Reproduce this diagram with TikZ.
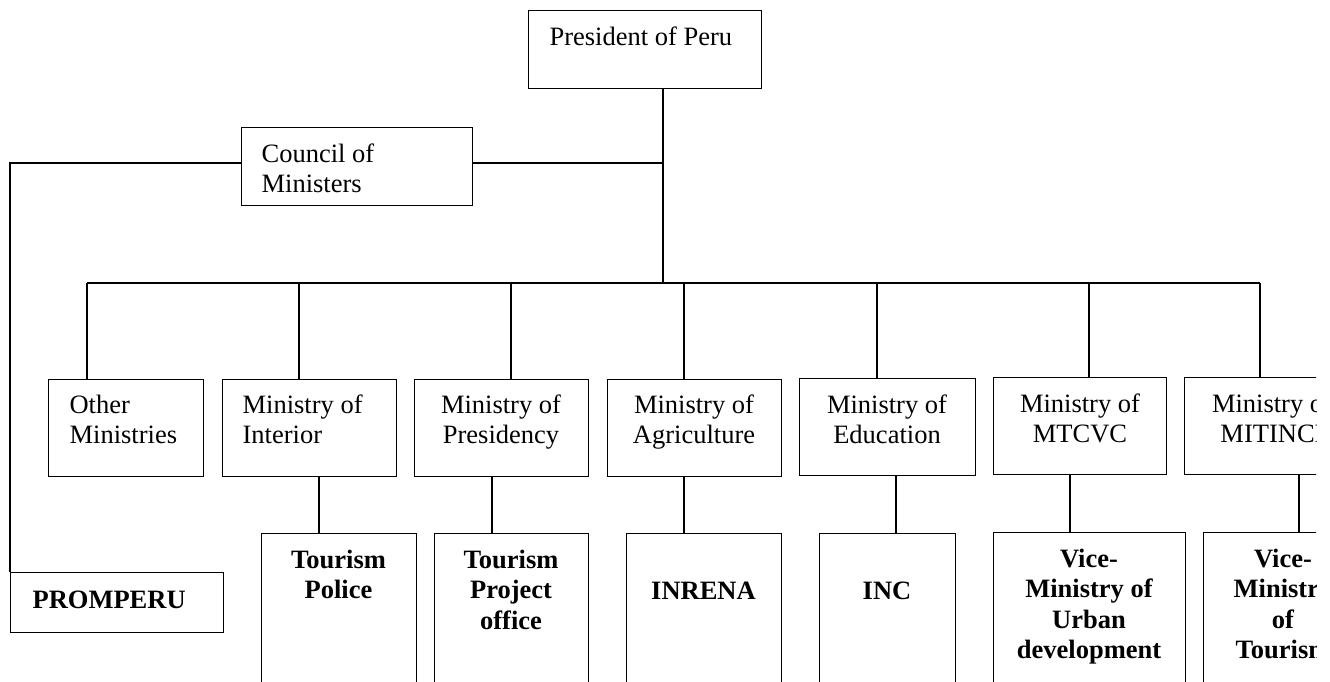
\documentclass[tikz,border=0pt]{standalone}
\usepackage{fontspec}
\setmainfont{Liberation Serif}
\usetikzlibrary{calc}
\newcommand\mlines[2][c]{\begin{tabular}[t]{@{}#1@{}}#2\end{tabular}}
\begin{document}
\begin{tikzpicture}[x=1pt,y=-1pt,line width=1.2pt,
  box/.style={draw=black, rectangle, inner sep=0pt, anchor=north west},
  txt/.style={inner sep=0pt, font=\fontsize{26.5}{30.5}\selectfont},
  btxt/.style={inner sep=0pt, font=\fontsize{26.5}{30.5}\selectfont\bfseries},
  wire/.style={draw=black, line width=1.2pt}]
\fill[white] (0,0) rectangle (1330,681);
\useasboundingbox (0,0) rectangle (1330,681);
\clip (0,0) rectangle (1316,681);

% ---- boxes ----
\node[box, minimum width=233pt, minimum height=78pt] (pres) at (528,10) {};
\node[box, minimum width=231pt, minimum height=78pt] (coun) at (241,127) {};
\node[box, minimum width=213pt, minimum height=60pt] (prom) at (10,572) {};

\node[box, minimum width=155pt, minimum height=97pt] (oth)  at (48,379) {};
\node[box, minimum width=174pt, minimum height=97pt] (mint) at (222,379) {};
\node[box, minimum width=174pt, minimum height=97pt] (mpre) at (414,379) {};
\node[box, minimum width=174pt, minimum height=97pt] (magr) at (607,379) {};
\node[box, minimum width=176pt, minimum height=97pt] (medu) at (799,378) {};
\node[box, minimum width=173pt, minimum height=97pt] (mtc)  at (993,377) {};
\node[box, minimum width=172pt, minimum height=97pt] (mit)  at (1184,377) {};

\node[box, minimum width=155pt, minimum height=200pt] (tpol) at (261,533) {};
\node[box, minimum width=154pt, minimum height=200pt] (tpro) at (434,533) {};
\node[box, minimum width=155pt, minimum height=200pt] (inr)  at (626,533) {};
\node[box, minimum width=136pt, minimum height=200pt] (inc)  at (819,533) {};
\node[box, minimum width=192pt, minimum height=200pt] (vurb) at (993,532) {};
\node[box, minimum width=158pt, minimum height=200pt] (vtou) at (1203,532) {};

% ---- texts ----
\node[txt, anchor=base west] (tpres) at (549,45) {President of Peru};
\node[txt, anchor=base west] (tcoun) at (261,162) {\mlines[l]{Council of\\Ministers}};
\node[btxt, anchor=base west] (tprom) at (32,608) {PROMPERU};

\node[txt, anchor=base west] (toth) at (69,413) {\mlines[l]{Other\\Ministries}};
\node[txt, anchor=base west] (tmint) at (242,413) {\mlines[l]{Ministry of\\Interior}};
\node[txt, anchor=base] (tmpre) at (501,413) {\mlines{Ministry of\\Presidency}};
\node[txt, anchor=base] (tmagr) at (694,413) {\mlines{Ministry of\\Agriculture}};
\node[txt, anchor=base] (tmedu) at (887,413) {\mlines{Ministry of\\Education}};
\node[txt, anchor=base] (tmtc) at (1080,412) {\mlines{Ministry of\\MTCVC}};
\node[txt, anchor=base] (tmit) at (1272,412) {\mlines{Ministry of\\MITINCI}};

\node[btxt, anchor=base] (ttpol) at (338.5,568) {\mlines{Tourism\\Police}};
\node[btxt, anchor=base] (ttpro) at (511,568) {\mlines{Tourism\\Project\\office}};
\node[btxt, anchor=base] (tinr) at (703.5,599) {INRENA};
\node[btxt, anchor=base] (tinc) at (887,599) {INC};
\node[btxt, anchor=base] (tvurb) at (1089,567) {\mlines{Vice-\\Ministry of\\Urban\\development}};
\node[btxt, anchor=base] (tvtou) at (1283,567) {\mlines{Vice-\\Ministry\\of\\Tourism}};

% ---- junction coordinates ----
\coordinate (cj) at (663,163);
\coordinate (lc) at (10,163);
\coordinate (bj) at (663,283);
\coordinate (b1) at (87,283);
\coordinate (b2) at (299,283);
\coordinate (b3) at (511,283);
\coordinate (b4) at (684,283);
\coordinate (b5) at (877,283);
\coordinate (b6) at (1089,283);
\coordinate (b7) at (1260,283);
\coordinate (k2) at (319,0);
\coordinate (k3) at (492,0);
\coordinate (k4) at (684,0);
\coordinate (k5) at (896,0);
\coordinate (k6) at (1070,0);
\coordinate (k7) at (1299,0);

% ---- connectors ----
\draw[wire] (pres.south -| bj) -- (bj);
\draw[wire] (coun.east |- cj) -- (cj);
\draw[wire] (coun.west |- lc) -- (lc) -- (prom.north west);
\draw[wire] (b1) -- (b7);
\draw[wire] (b1) -- (oth.north -| b1);
\draw[wire] (b2) -- (mint.north -| b2);
\draw[wire] (b3) -- (mpre.north -| b3);
\draw[wire] (b4) -- (magr.north -| b4);
\draw[wire] (b5) -- (medu.north -| b5);
\draw[wire] (b6) -- (mtc.north -| b6);
\draw[wire] (b7) -- (mit.north -| b7);
\draw[wire] (mint.south -| k2) -- (tpol.north -| k2);
\draw[wire] (mpre.south -| k3) -- (tpro.north -| k3);
\draw[wire] (magr.south -| k4) -- (inr.north -| k4);
\draw[wire] (medu.south -| k5) -- (inc.north -| k5);
\draw[wire] (mtc.south -| k6) -- (vurb.north -| k6);
\draw[wire] (mit.south -| k7) -- (vtou.north -| k7);
\end{tikzpicture}
\end{document}
